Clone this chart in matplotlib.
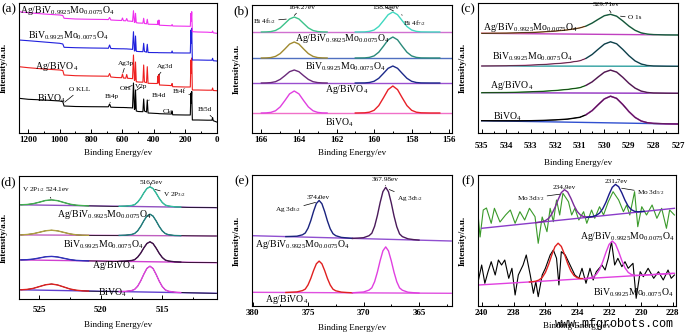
import matplotlib
matplotlib.use('Agg')
import matplotlib.pyplot as plt
from matplotlib.ticker import MultipleLocator

plt.rcParams['font.family'] = ['Liberation Serif', 'DejaVu Serif']
plt.rcParams['font.weight'] = 'bold'
plt.rcParams['mathtext.fontset'] = 'custom'
plt.rcParams['mathtext.rm'] = 'Liberation Serif'
plt.rcParams['mathtext.default'] = 'regular'
plt.rcParams['axes.linewidth'] = 0.8

lab_agmo = 'Ag/BiV$_{0.9925}$Mo$_{0.0075}$O$_4$'
lab_mo = 'BiV$_{0.9925}$Mo$_{0.0075}$O$_4$'
lab_ag = 'Ag/BiVO$_4$'
lab_bv = 'BiVO$_4$'

# ---- (a) survey ----
a_ev = [1259, 1200, 1100, 1000, 980, 972, 900, 800, 700, 690, 682, 674, 640, 606, 600, 594,
        579, 573, 567, 545, 536, 530, 524, 520, 517, 512, 500, 470, 465, 460, 447, 442, 437,
        390, 378, 374, 371, 368, 364, 300, 288, 284, 280, 200, 168, 164, 162, 159, 155, 120,
        60, 30, 26, 22, 0]
a_bv = [34.7, 33.7, 33, 32, 31.3, 27, 26.5, 26.3, 26.2, 26.2, 29, 25.8, 25.6, 25.5, 25.5, 25.5,
        25.4, 25.4, 25.3, 25.2, 25.0, 50, 23.5, 24, 43, 22, 21.5, 21.3, 34, 22, 21, 33, 20,
        19.6, 19.5, 19.5, 19.4, 19.4, 19.3, 19, 19, 21.5, 18.2, 18, 18, 40, 30, 41.5, 13, 13,
        12.8, 12.8, 15.5, 12.3, 11]
a_ag = [66.3, 65.3, 64, 63, 62.5, 58, 57.3, 57, 56.8, 56.7, 59.5, 56, 55.5, 55.3, 59, 55,
        54.8, 58.5, 54.7, 54.5, 54.3, 78, 52.5, 53, 71, 51.3, 51, 50.8, 68, 51, 50.3, 66.3, 49.7,
        49.5, 49.5, 57, 50, 58.5, 48, 47.5, 47.3, 49.5, 46.3, 46, 46, 73, 60, 75, 43, 43,
        42.8, 42.8, 45, 42.5, 42.3]
a_mo = [93, 92.3, 91, 89.7, 89, 85.7, 85.3, 85, 84.8, 84.7, 88, 84.5, 84.3, 84.2, 84.2, 84.2,
        84.1, 84.1, 84, 83.8, 83.6, 101.3, 82, 82.5, 97, 81.7, 81.5, 81.3, 89.7, 81.5, 80.8, 88.7, 80.5,
        80.4, 80.4, 80.4, 80.3, 80.3, 80.3, 80.2, 80.2, 82, 80.1, 80, 80, 103, 90, 104.7, 73, 73,
        72.8, 72.8, 74.7, 72.3, 72]
a_agmo = [121.3, 120.3, 119, 118, 117.5, 114.7, 114, 113.7, 113.5, 113.4, 115.5, 113, 112.7, 112.5, 115, 112.3,
          112.2, 114.5, 112, 111.8, 111.5, 122.3, 110.5, 111, 119.7, 110.3, 110, 109.8, 114.7, 109.5, 109.2, 113.7, 108.8,
          108.6, 108.5, 112.3, 108.3, 113, 107.8, 107.3, 107.2, 108.5, 107, 106.8, 106.7, 119.7, 112, 121.3, 101.3, 101,
          100.8, 100.5, 102, 100.2, 99.7]

# ---- (b) Bi 4f ----
b_ev = [166.5, 166.0, 165.75, 165.5, 165.25, 165.0, 164.75, 164.5, 164.25, 164.0, 163.75, 163.5,
        163.25, 163.0, 162.75, 162.5, 162.0, 161.0, 160.5, 160.25, 160.0, 159.75, 159.5, 159.25,
        159.0, 158.75, 158.5, 158.25, 158.0, 157.75, 157.5, 157.0, 156.5, 155.75]
b_bv = [20, 20, 20.1, 20.6, 22.2, 26.1, 32.4, 39.1, 42, 39.1, 32.4, 26.1, 22.2, 20.6, 20.1, 20, 20,
        20, 20.2, 20.8, 22.7, 27.4, 35.2, 43.4, 47, 43.4, 35.2, 27.4, 22.7, 20.8, 20.2, 20, 20, 20]
b_ag = [50, 50, 50.1, 50.4, 51.3, 53.6, 57.3, 61.3, 63, 61.3, 57.3, 53.6, 51.3, 50.4, 50.1, 50, 50,
        50, 50.1, 50.5, 51.7, 54.7, 59.6, 64.7, 67, 64.7, 59.6, 54.7, 51.7, 50.5, 50.1, 50, 50, 50]
b_mo = [75, 75, 75.1, 75.4, 76.6, 79.4, 84.0, 88.9, 91, 88.9, 84.0, 79.4, 76.6, 75.4, 75.1, 75, 75,
        75, 75.1, 75.6, 77.1, 80.8, 86.8, 93.2, 96, 93.2, 86.8, 80.8, 77.1, 75.6, 75.1, 75, 75, 75]
b_agmo = [101, 101, 101.1, 101.4, 102.5, 105.1, 109.5, 114.0, 116, 114.0, 109.5, 105.1, 102.5, 101.4, 101.1, 101, 101,
          101, 101.1, 101.6, 103.0, 106.5, 112.3, 118.3, 121, 118.3, 112.3, 106.5, 103.0, 101.6, 101.1, 101, 101, 101]

# ---- (c) O 1s ----
c_ev = [535, 534.5, 534, 533.5, 533, 532.5, 532, 531.5, 531, 530.75, 530.5, 530.25, 530, 529.75,
        529.5, 529.25, 529, 528.75, 528.5, 528.25, 528, 527.5, 527]
c_bv = [12.3, 12.2, 12.2, 12.2, 12.3, 12.6, 13.1, 13.9, 15.7, 18.2, 22.4, 28.4, 34.1, 36.8,
        34.6, 28.5, 21.4, 15.6, 12.0, 10.3, 9.6, 9.2, 9.0]
c_ag = [40.3, 40.4, 40.5, 40.8, 41.2, 41.7, 42.5, 43.6, 45.3, 47.6, 51.1, 56.1, 60.8, 62.9,
        60.9, 55.7, 49.7, 44.9, 41.9, 40.5, 40.0, 39.8, 39.7]
c_mo = [67.0, 67.1, 67.2, 67.5, 67.9, 68.5, 69.3, 70.3, 72.2, 74.6, 78.5, 83.8, 88.9, 91.2,
        89.2, 83.6, 77.3, 72.1, 69.0, 67.5, 67.0, 66.8, 66.7]
c_agmo = [99.7, 99.8, 99.9, 100.2, 100.5, 101.1, 101.9, 103.1, 105.1, 106.9, 109.9, 113.7, 117.3, 118.7,
          116.8, 112.1, 106.9, 102.7, 100.1, 98.9, 98.4, 98.1, 98.0]

# ---- (d) V 2p ----
d_ev = [526.5, 526, 525.5, 525, 524.5, 524, 523.5, 523, 522.5, 522, 521.5, 521, 520, 519, 518.5,
        518, 517.5, 517.25, 517, 516.75, 516.5, 516.25, 516, 515.75, 515.5, 515.25, 515, 514.75,
        514.5, 514, 513.5, 513, 512, 511, 510.6]
d_bv = [9.2, 9.6, 10.6, 12.4, 14.2, 15.0, 14.0, 12.0, 10.0, 8.8, 8.2, 7.9, 7.7, 7.4, 7.4,
        7.6, 8.4, 9.6, 12.8, 18.2, 24.8, 30.6, 32.8, 30.5, 24.6, 17.9, 12.4, 9.1,
        7.8, 6.8, 6.4, 6.2, 6.0, 5.8, 5.7]
d_ag = [39.1, 39.3, 39.9, 41.0, 42.2, 42.6, 42.0, 40.7, 39.4, 38.6, 38.3, 38.1, 37.9, 37.7, 37.7,
        37.9, 38.5, 39.3, 41.9, 45.9, 51.1, 55.5, 57.2, 55.4, 50.9, 45.7, 41.5, 38.9,
        38.0, 37.2, 36.9, 36.7, 36.5, 36.4, 36.3]
d_mo = [64.1, 64.5, 65.3, 66.7, 68.2, 68.8, 68.1, 66.6, 65.1, 64.2, 63.8, 63.7, 63.6, 63.5, 63.6,
        63.8, 64.5, 65.5, 68.2, 72.7, 78.2, 83.0, 84.8, 82.9, 78.1, 72.6, 68.1, 65.4,
        64.3, 63.5, 63.3, 63.2, 63.1, 63.0, 63.0]
d_agmo = [94.2, 94.5, 95.3, 96.8, 98.5, 99.1, 98.3, 96.5, 94.8, 93.8, 93.4, 93.1, 92.9, 92.7, 92.7,
          92.9, 93.5, 94.3, 96.9, 100.9, 106.1, 110.5, 112.2, 110.4, 105.9, 100.7, 96.5, 93.9,
          93.0, 92.2, 91.9, 91.7, 91.5, 91.4, 91.3]

# ---- (e) Ag 3d ----
e_ev = [380, 378, 377, 376.5, 376, 375.5, 375.25, 375, 374.75, 374.5, 374.25, 374, 373.75, 373.5,
        373.25, 373, 372.75, 372.5, 372, 371.5, 371, 370.5, 370, 369.5, 369.25, 369, 368.75,
        368.5, 368.25, 368, 367.75, 367.5, 367.25, 367, 366.75, 366.5, 366, 365.5, 365, 364, 362.1]
e_agmo = [70.3, 69.7, 69.4, 69.6, 69.8, 71.2, 73.0, 77.8, 85.4, 94.7, 102.5, 105.5, 102.3, 94.4,
          85.0, 77.2, 72.3, 70.3, 68.6, 68.1, 67.6, 67.9, 68.3, 70.3, 72.8, 79.7, 90.5,
          103.5, 114.4, 118.7, 114.3, 103.2, 90.0, 79.2, 72.1, 69.4, 67.2, 66.4, 65.9, 65.6, 65.0]
e_ag = [13.7, 13.6, 13.5, 13.8, 14.1, 15.4, 16.9, 21.1, 27.6, 35.5, 42.2, 44.9, 42.2, 35.4,
        27.5, 21.0, 16.8, 15.2, 13.9, 13.5, 13.2, 13.6, 14.0, 15.9, 18.2, 24.3, 33.9,
        45.4, 55.2, 59.1, 55.1, 45.3, 33.8, 24.2, 18.1, 15.8, 13.8, 13.3, 12.9, 12.8, 12.7]

# ---- (f) Mo 3d ----
f_up_ev = [240.2, 240.1, 239.9, 239.7, 239.4, 239.2, 238.85, 238.5, 238.2, 237.9, 237.6, 237.3,
           237.0, 236.65, 236.45, 236.2, 235.9, 235.7, 235.5, 235.3, 235.1, 234.9, 234.55, 234.35,
           234.15, 233.9, 233.6, 233.4, 233.1, 232.9, 232.6, 232.35, 232.05, 231.75, 231.4, 231.1,
           230.9, 230.7, 230.4, 230.2, 229.95, 229.65, 229.3, 229.0, 228.7, 228.4, 228.2, 227.9]
f_up = [87, 69, 96, 98, 82.7, 97.7, 84, 91, 96, 82.7, 94.3, 86,
        97.7, 89.3, 62.7, 89, 74.3, 97.7, 84.3, 106, 91, 112.7, 104.3, 91,
        97.7, 86, 94.3, 82.7, 96, 87.7, 99.3, 91, 104.3, 114.3, 106, 94.3,
        101, 91, 114.3, 79.3, 99.3, 91, 101, 87.7, 97.7, 77.7, 96, 91]
f_lo_ev = [240.2, 240.0, 239.8, 239.6, 239.4, 239.15, 238.95, 238.75, 238.55, 238.3, 238.1, 237.9,
           237.7, 237.4, 237.2, 236.95, 236.75, 236.6, 236.45, 236.2, 236.0, 235.7, 235.5, 235.3,
           235.15, 235.0, 234.75, 234.45, 234.15, 233.9, 233.7, 233.45, 233.2, 233.0, 232.8, 232.45,
           232.25, 232.05, 231.85, 231.65, 231.45, 231.2, 231.0, 230.8, 230.5, 230.3, 230.05, 229.85,
           229.55, 229.2, 228.9, 228.6, 228.3, 228.1, 227.9]
f_lo = [26, 41, 22.7, 34.3, 44.3, 31, 46, 41, 46, 27.7, 37.7, 11,
        31, 41, 51, 31, 12.7, 24.3, 9.3, 31, 37.7, 51, 56, 47.7,
        21, 54.3, 51, 41, 31, 27.7, 37.7, 22.7, 37.7, 26, 34.3, 41,
        36, 47.7, 64.3, 41, 47.7, 39.3, 44.3, 37.7, 42.7, 7.7, 34.3, 29.3,
        37.7, 27.7, 34.3, 26, 36, 27.7, 31]
f_up_base_ev = [240.0, 227.9]
f_up_base = [77.7, 97.7]
f_lo_base_ev = [240.2, 227.9]
f_lo_base = [21, 32.7]
f_up_p1_ev = [236.6, 236.4, 236.2, 236.0, 235.8, 235.6, 235.4, 235.2, 235.0, 234.8, 234.6, 234.4,
              234.2, 234.0, 233.8, 233.6, 233.4, 233.2, 233.0]
f_up_p1 = [83.3, 83.8, 84.3, 85.4, 87.6, 91.9, 98.4, 106.4, 113.4, 116.3, 114.0, 107.8,
           100.4, 94.5, 91.0, 89.4, 88.9, 89.1, 89.3]
f_up_p2_ev = [233.4, 233.2, 233.0, 232.8, 232.6, 232.4, 232.2, 232.0, 231.8, 231.6, 231.4, 231.2,
              231.0, 230.8, 230.6, 230.4, 230.2, 230.0, 229.8]
f_up_p2 = [88.6, 89.1, 89.6, 90.7, 92.9, 97.2, 103.7, 111.7, 118.7, 121.6, 119.3, 113.1,
           105.7, 99.8, 96.3, 94.7, 94.2, 94.4, 94.6]
f_lo_p1_ev = [237.0, 236.8, 236.6, 236.4, 236.2, 236.0, 235.8, 235.6, 235.4, 235.2, 235.0, 234.8,
              234.6, 234.4, 234.2, 234.0, 233.8, 233.6, 233.4]
f_lo_p1 = [24.0, 24.3, 24.8, 26.0, 28.5, 33.5, 41.4, 51.0, 59.3, 62.8, 59.6, 51.7,
           42.5, 35.0, 30.4, 28.3, 27.5, 27.4, 27.5]
f_lo_p2_ev = [233.6, 233.4, 233.2, 233.0, 232.8, 232.6, 232.4, 232.2, 232.0, 231.8, 231.6, 231.4,
              231.2, 231.0, 230.8, 230.6, 230.4, 230.2, 230.0, 228.0]
f_lo_p2 = [27.3, 27.6, 28.1, 29.1, 31.6, 36.5, 44.2, 53.5, 61.6, 65.0, 62.0, 54.3,
           45.4, 38.1, 33.6, 31.5, 30.7, 30.6, 30.7, 32.6]

W, H = 685, 334
fig = plt.figure(figsize=(W / 100, H / 100), dpi=100)


def frame(l, t, w, h):
    return fig.add_axes([l / W, (H - t - h) / H, w / W, h / H])


def style(ax, xlim, ylim, major, minor, pad, lpad, wpx):
    ax.set_xlim(*xlim)
    ax.set_ylim(*ylim)
    ax.set_yticks([])
    ax.xaxis.set_major_locator(MultipleLocator(major))
    ax.xaxis.set_minor_locator(MultipleLocator(minor))
    ax.tick_params(axis='x', which='both', direction='in', labelsize=6.5, pad=pad, width=0.7)
    ax.tick_params(axis='x', which='major', length=3)
    ax.tick_params(axis='x', which='minor', length=1.5)
    ax.set_xlabel('Binding Energy/ev', fontsize=6.5, labelpad=lpad)
    ax.text(-15 / wpx, 0.5, 'Intensity/a.u.', rotation=90, ha='center', va='center',
            fontsize=6.5, transform=ax.transAxes)


def letter(ax, s):
    ax.text(-0.015, 1.0, s, ha='right', va='top', fontsize=9.5, fontweight='normal',
            transform=ax.transAxes)


def note(ax, s, x, y, size=7):
    ax.text(x, y, s, transform=ax.transAxes, fontsize=size, fontweight='normal',
            va='center', ha='left')


def pointer(ax, s, xy, xyt, size=5.2):
    ax.annotate(s, xy=xy, xytext=xyt, textcoords='axes fraction', fontsize=size,
                fontweight='normal', va='center', ha='left',
                arrowprops=dict(arrowstyle='-', lw=0.5, color='k', shrinkA=0, shrinkB=1))


def window(ax, x, y, hi, lo, color, lw=1.0):
    xs = [a for a in x if lo <= a <= hi]
    ys = [b for a, b in zip(x, y) if lo <= a <= hi]
    ax.plot(xs, ys, color=color, lw=lw)


# (a)
ax = frame(19, 3, 198, 130)
for y, c in [(a_bv, 'black'), (a_ag, '#ee2020'), (a_mo, '#2020dd'), (a_agmo, '#ee30ee')]:
    ax.plot(a_ev, y, color=c, lw=0.8)
style(ax, (1259, -2), (0, 130), 200, 100, 2.5, 3.5, 198)
letter(ax, '(a)')
note(ax, lab_agmo, 0.005, 0.946)
note(ax, lab_mo, 0.045, 0.746)
note(ax, lab_ag, 0.081, 0.51)
note(ax, lab_bv, 0.091, 0.262)
pointer(ax, 'O KLL', (975, 30), (0.253, 0.331))
pointer(ax, 'Bi4p', (682, 29), (0.434, 0.277))
pointer(ax, 'O1s', (530, 48), (0.51, 0.346))
pointer(ax, 'V2p', (517, 42), (0.586, 0.354))
pointer(ax, 'Bi4d', (442, 32), (0.672, 0.292))
pointer(ax, 'C1s', (285, 21), (0.727, 0.162))
pointer(ax, 'Bi4f', (164, 38), (0.778, 0.323))
pointer(ax, 'Bi5d', (26, 15), (0.904, 0.177))
pointer(ax, 'Ag3p', (600, 59), (0.5, 0.538))
pointer(ax, 'Ag3d', (374, 57), (0.697, 0.508))

# (b)
ax = frame(252, 5, 200, 128)
sets_b = [(b_bv, '#f070c8', '#e040e0', '#e82028'),
          (b_ag, '#9a50d0', '#6a2a7a', '#1c2a8a'),
          (b_mo, '#5070c0', '#a08a30', '#2a8a7a'),
          (b_agmo, '#d070d0', '#3cc28a', '#40d8c0')]
for y, cb, c1, c2 in sets_b:
    ax.plot([b_ev[0], b_ev[-1]], [y[0], y[-1]], color=cb, lw=1.0)
    window(ax, b_ev, y, 166.0, 162.5, c1)
    window(ax, b_ev, y, 161.0, 156.5, c2)
style(ax, (166.5, 155.85), (0, 128), 2, 1, 2.5, 3.5, 200)
letter(ax, '(b)')
note(ax, lab_agmo, 0.215, 0.742)
note(ax, lab_mo, 0.265, 0.516)
note(ax, lab_ag, 0.365, 0.336)
note(ax, lab_bv, 0.365, 0.078)
pointer(ax, '164.27ev', (164.3, 116.5), (0.18, 0.977))
pointer(ax, '158.94ev', (158.9, 121.5), (0.6, 0.984))
pointer(ax, 'Bi 4f$_{5/2}$', (164.6, 114), (0.005, 0.875))
pointer(ax, 'Bi 4f$_{7/2}$', (158.6, 119), (0.755, 0.86))

# (c)
ax = frame(478, 3, 200, 130)
sets_c = [(c_bv, '#3050d0', 'black', '#e040e0'),
          (c_ag, '#9030c0', '#40b040', '#c040c0'),
          (c_mo, '#30a0a0', '#e070b0', '#30a0a0'),
          (c_agmo, '#c040c0', '#c08040', '#40c0a0')]
for y, cb, ct, cf in sets_c:
    ax.plot([c_ev[0], c_ev[-1]], [y[0], y[-1]], color=cb, lw=1.0)
    ax.plot(c_ev, y, color=ct, lw=1.0)
    window(ax, c_ev, y, 530.75, 527.0, cf)
    ax.plot(c_ev, y, color='black', lw=0.4)
style(ax, (535.15, 527.0), (0, 130), 1, 0.5, 6.5, 6.5, 200)
letter(ax, '(c)')
note(ax, lab_agmo, 0.025, 0.815)
note(ax, lab_mo, 0.07, 0.585)
note(ax, lab_ag, 0.06, 0.362)
note(ax, lab_bv, 0.075, 0.123)
pointer(ax, '529.71ev', (529.7, 119), (0.575, 0.985))
pointer(ax, 'O 1s', (529.4, 117), (0.75, 0.885))

# (d)
ax = frame(19, 176, 198, 123)
sets_d = [(d_bv, '#6040d0', '#e02020', '#e040e0'),
          (d_ag, '#d040d0', '#3030c0', '#40104a'),
          (d_mo, '#c060c0', '#b0a040', '#208080'),
          (d_agmo, '#9050c0', '#40b050', '#30c0a0')]
for y, cb, c1, c2 in sets_d:
    ax.plot([d_ev[0], d_ev[-1]], [y[0], y[-1]], color=cb, lw=1.0)
    ax.plot(d_ev, y, color='black', lw=0.5)
    window(ax, d_ev, y, 526.5, 521.0, c1)
    window(ax, d_ev, y, 518.5, 513.5, c2)
style(ax, (526.65, 510.55), (0, 123), 5, 2.5, 5, 5, 198)
letter(ax, '(d)')
note(ax, lab_agmo, 0.192, 0.683)
note(ax, lab_mo, 0.222, 0.439)
note(ax, lab_ag, 0.369, 0.276)
note(ax, lab_bv, 0.399, 0.049)
pointer(ax, 'V 2P$_{1/2}$ 524.1ev', (524.0, 99.5), (0.015, 0.886))
pointer(ax, '516.5ev', (516.0, 112.5), (0.611, 0.951))
pointer(ax, 'V 2P$_{3/2}$', (515.7, 110), (0.727, 0.846))

# (e)
ax = frame(252, 175, 199.5, 131)
sets_e = [(e_agmo, '#9050d0', '#1a237e', '#4a1a5a'),
          (e_ag, '#e050e0', '#e02020', '#e040e0')]
for y, cb, c1, c2 in sets_e:
    ax.plot([e_ev[0], e_ev[-1]], [y[0], y[-1]], color=cb, lw=1.0)
    window(ax, e_ev, y, 377.0, 371.0, c1)
    window(ax, e_ev, y, 371.0, 365.0, c2)
style(ax, (380.05, 362.07), (0, 131), 5, 2.5, 2, 5, 199.5)
letter(ax, '(e)')
note(ax, lab_agmo, 0.015, 0.466)
note(ax, lab_ag, 0.065, 0.046)
pointer(ax, '374.0ev', (374.0, 106), (0.276, 0.832))
pointer(ax, 'Ag 3d$_{3/2}$', (374.2, 104), (0.115, 0.733))
pointer(ax, '367.98ev', (368.0, 119), (0.601, 0.962))
pointer(ax, 'Ag 3d$_{5/2}$', (367.8, 117), (0.727, 0.824))

# (f)
ax = frame(478, 175, 198, 131)
ax.plot(f_up_ev, f_up, color='#3a9a2a', lw=0.8)
ax.plot(f_up_base_ev, f_up_base, color='#8a3cc8', lw=1.0)
ax.plot(f_up_p1_ev, f_up_p1, color='#7a2a9a', lw=1.0)
ax.plot(f_up_p2_ev, f_up_p2, color='#1a1a8a', lw=1.0)
ax.plot(f_lo_ev, f_lo, color='black', lw=0.8)
ax.plot(f_lo_base_ev, f_lo_base, color='#e040e0', lw=1.0)
ax.plot(f_lo_p1_ev, f_lo_p1, color='#e02020', lw=1.0)
ax.plot(f_lo_p2_ev, f_lo_p2, color='#e040e0', lw=1.0)
style(ax, (240.23, 227.8), (0, 131), 2, 1, 2, 4, 198)
letter(ax, '(f)')
note(ax, lab_agmo, 0.515, 0.527)
note(ax, lab_mo, 0.581, 0.099)
pointer(ax, 'Mo 3d$_{3/2}$', (235.0, 112), (0.197, 0.824))
pointer(ax, '234.9ev', (234.8, 116.5), (0.379, 0.901))
pointer(ax, '231.7ev', (231.6, 122), (0.641, 0.947))
pointer(ax, 'Mo 3d$_{5/2}$', (231.3, 118), (0.803, 0.863))

fig.text(614 / W, 1 - 324 / H, 'www.mfgrobots.com', ha='center', va='center',
         fontsize=8.5, family='Liberation Mono', fontweight='normal')

fig.savefig('out.png', dpi=100)
